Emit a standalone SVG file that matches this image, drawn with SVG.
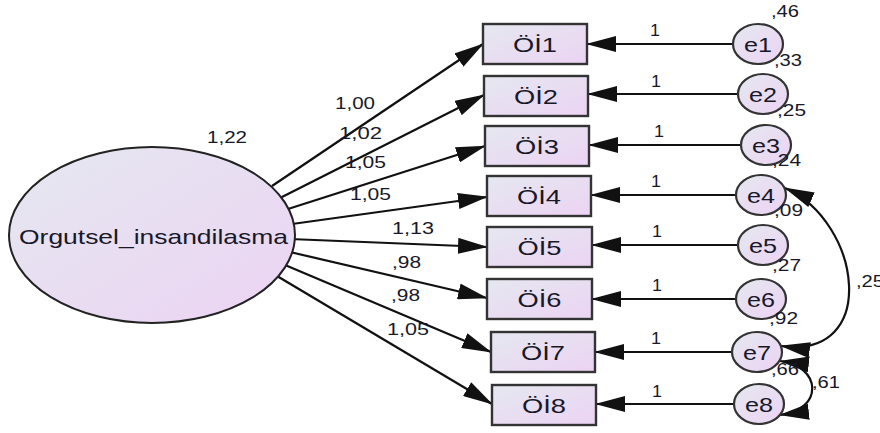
<svg xmlns="http://www.w3.org/2000/svg" width="880" height="433" viewBox="0 0 880 433">
<defs>
<linearGradient id="g" x1="0" y1="0" x2="1" y2="1">
<stop offset="0" stop-color="#e5e8f0"/>
<stop offset="1" stop-color="#ecd3f3"/>
</linearGradient>
<marker id="ah" viewBox="0 0 30 16" refX="29" refY="8" markerWidth="30" markerHeight="16" markerUnits="userSpaceOnUse" orient="auto-start-reverse">
<path d="M0,0 L30,8 L0,16 z" fill="#111"/>
</marker>
<style>
.c{stroke:#111;stroke-width:2.2;fill:none;marker-end:url(#ah)}
.cv{stroke:#111;stroke-width:2.2;fill:none;marker-start:url(#ah);marker-end:url(#ah)}
.box{fill:url(#g);stroke:#333;stroke-width:2.4}
.err{fill:url(#g);stroke:#333;stroke-width:2.2}
.lat{fill:url(#g);stroke:#222;stroke-width:2}
.t{font-family:"Liberation Sans",Arial,sans-serif;fill:#181828}
.big{font-size:21px;text-anchor:middle}
.num{font-size:16px}
</style>
</defs>
<g id="connectors">
<line class="c" x1="272" y1="186" x2="483" y2="44"/>
<line class="c" x1="280" y1="198" x2="484" y2="95"/>
<line class="c" x1="288" y1="209" x2="485" y2="146"/>
<line class="c" x1="292" y1="224" x2="487" y2="197"/>
<line class="c" x1="290" y1="239" x2="487" y2="247"/>
<line class="c" x1="290" y1="252" x2="487" y2="298"/>
<line class="c" x1="285" y1="265" x2="491" y2="352"/>
<line class="c" x1="277" y1="276" x2="492" y2="404"/>
<line class="c" x1="733" y1="44" x2="587" y2="44"/>
<line class="c" x1="738" y1="94" x2="588" y2="94"/>
<line class="c" x1="741" y1="145" x2="589" y2="145"/>
<line class="c" x1="736" y1="195" x2="591" y2="195"/>
<line class="c" x1="738" y1="245" x2="592" y2="245"/>
<line class="c" x1="736" y1="299" x2="592" y2="299"/>
<line class="c" x1="732" y1="352" x2="595" y2="352"/>
<line class="c" x1="734" y1="404" x2="596" y2="404"/>
<path class="cv" d="M785,188 C862,222 880,360 781,346"/>
<path class="cv" d="M780,361 C822,366 824,410 780,415"/>
<text class="t num" x="335" y="109" textLength="40" lengthAdjust="spacingAndGlyphs">1,00</text>
<text class="t num" x="339" y="139" textLength="43" lengthAdjust="spacingAndGlyphs">1,02</text>
<text class="t num" x="345" y="168" textLength="41" lengthAdjust="spacingAndGlyphs">1,05</text>
<text class="t num" x="350" y="200" textLength="41" lengthAdjust="spacingAndGlyphs">1,05</text>
<text class="t num" x="392" y="234" textLength="42" lengthAdjust="spacingAndGlyphs">1,13</text>
<text class="t num" x="392" y="268" textLength="29" lengthAdjust="spacingAndGlyphs">,98</text>
<text class="t num" x="391" y="301" textLength="29" lengthAdjust="spacingAndGlyphs">,98</text>
<text class="t num" x="387" y="335" textLength="42" lengthAdjust="spacingAndGlyphs">1,05</text>
<text class="t num" x="650" y="36" textLength="10" lengthAdjust="spacingAndGlyphs">1</text>
<text class="t num" x="651" y="87" textLength="10" lengthAdjust="spacingAndGlyphs">1</text>
<text class="t num" x="654" y="137" textLength="10" lengthAdjust="spacingAndGlyphs">1</text>
<text class="t num" x="651" y="187" textLength="10" lengthAdjust="spacingAndGlyphs">1</text>
<text class="t num" x="652" y="237" textLength="10" lengthAdjust="spacingAndGlyphs">1</text>
<text class="t num" x="652" y="291" textLength="10" lengthAdjust="spacingAndGlyphs">1</text>
<text class="t num" x="651" y="344" textLength="10" lengthAdjust="spacingAndGlyphs">1</text>
<text class="t num" x="652" y="397" textLength="10" lengthAdjust="spacingAndGlyphs">1</text>
<text class="t num" x="856" y="287" textLength="28" lengthAdjust="spacingAndGlyphs">,25</text>
<text class="t num" x="812" y="388" textLength="28" lengthAdjust="spacingAndGlyphs">,61</text>
</g>
<g id="Orgutsel_insandilasma">
<ellipse class="lat" cx="152" cy="235" rx="143" ry="88"/>
<text class="t" x="153.5" y="244" font-size="21" text-anchor="middle" textLength="269" lengthAdjust="spacingAndGlyphs">Orgutsel_insandilasma</text>
<text class="t num" x="207" y="143" textLength="40" lengthAdjust="spacingAndGlyphs">1,22</text>
</g>
<g id="OI1"><rect class="box" x="483" y="24" width="104" height="40"/><text class="t big" x="535" y="52" textLength="44" lengthAdjust="spacingAndGlyphs">Öİ1</text></g>
<g id="OI2"><rect class="box" x="484" y="76" width="104" height="40"/><text class="t big" x="536" y="104" textLength="44" lengthAdjust="spacingAndGlyphs">Öİ2</text></g>
<g id="OI3"><rect class="box" x="485" y="126" width="104" height="40"/><text class="t big" x="537" y="154" textLength="44" lengthAdjust="spacingAndGlyphs">Öİ3</text></g>
<g id="OI4"><rect class="box" x="487" y="176" width="104" height="40"/><text class="t big" x="539" y="204" textLength="44" lengthAdjust="spacingAndGlyphs">Öİ4</text></g>
<g id="OI5"><rect class="box" x="487" y="227" width="105" height="40"/><text class="t big" x="539.5" y="255" textLength="44" lengthAdjust="spacingAndGlyphs">Öİ5</text></g>
<g id="OI6"><rect class="box" x="487" y="279" width="105" height="40"/><text class="t big" x="539.5" y="307" textLength="44" lengthAdjust="spacingAndGlyphs">Öİ6</text></g>
<g id="OI7"><rect class="box" x="491" y="332" width="104" height="40"/><text class="t big" x="543" y="360" textLength="44" lengthAdjust="spacingAndGlyphs">Öİ7</text></g>
<g id="OI8"><rect class="box" x="492" y="385" width="104" height="40"/><text class="t big" x="544" y="413" textLength="44" lengthAdjust="spacingAndGlyphs">Öİ8</text></g>
<g id="e1"><ellipse class="err" cx="758" cy="44" rx="25" ry="20"/><text class="t big" x="758" y="51.5" textLength="28" lengthAdjust="spacingAndGlyphs">e1</text><text class="t num" x="771" y="17" textLength="28" lengthAdjust="spacingAndGlyphs">,46</text></g>
<g id="e2"><ellipse class="err" cx="763" cy="94" rx="25" ry="20"/><text class="t big" x="763" y="101.5" textLength="28" lengthAdjust="spacingAndGlyphs">e2</text><text class="t num" x="774" y="66" textLength="28" lengthAdjust="spacingAndGlyphs">,33</text></g>
<g id="e3"><ellipse class="err" cx="766" cy="145" rx="25" ry="20"/><text class="t big" x="766" y="152.5" textLength="28" lengthAdjust="spacingAndGlyphs">e3</text><text class="t num" x="777" y="116" textLength="29" lengthAdjust="spacingAndGlyphs">,25</text></g>
<g id="e4"><ellipse class="err" cx="761" cy="195" rx="25" ry="20"/><text class="t big" x="761" y="202.5" textLength="28" lengthAdjust="spacingAndGlyphs">e4</text><text class="t num" x="772" y="166" textLength="29" lengthAdjust="spacingAndGlyphs">,24</text></g>
<g id="e5"><ellipse class="err" cx="763" cy="245" rx="25" ry="20"/><text class="t big" x="763" y="252.5" textLength="28" lengthAdjust="spacingAndGlyphs">e5</text><text class="t num" x="774" y="216" textLength="29" lengthAdjust="spacingAndGlyphs">,09</text></g>
<g id="e6"><ellipse class="err" cx="761" cy="299" rx="25" ry="20"/><text class="t big" x="761" y="306.5" textLength="28" lengthAdjust="spacingAndGlyphs">e6</text><text class="t num" x="772" y="271" textLength="29" lengthAdjust="spacingAndGlyphs">,27</text></g>
<g id="e7"><ellipse class="err" cx="757" cy="352" rx="25" ry="20"/><text class="t big" x="757" y="359.5" textLength="28" lengthAdjust="spacingAndGlyphs">e7</text><text class="t num" x="769" y="324" textLength="29" lengthAdjust="spacingAndGlyphs">,92</text></g>
<g id="e8"><ellipse class="err" cx="759" cy="404" rx="25" ry="20"/><text class="t big" x="759" y="411.5" textLength="28" lengthAdjust="spacingAndGlyphs">e8</text><text class="t num" x="771" y="375" textLength="28" lengthAdjust="spacingAndGlyphs">,66</text></g>
</svg>
